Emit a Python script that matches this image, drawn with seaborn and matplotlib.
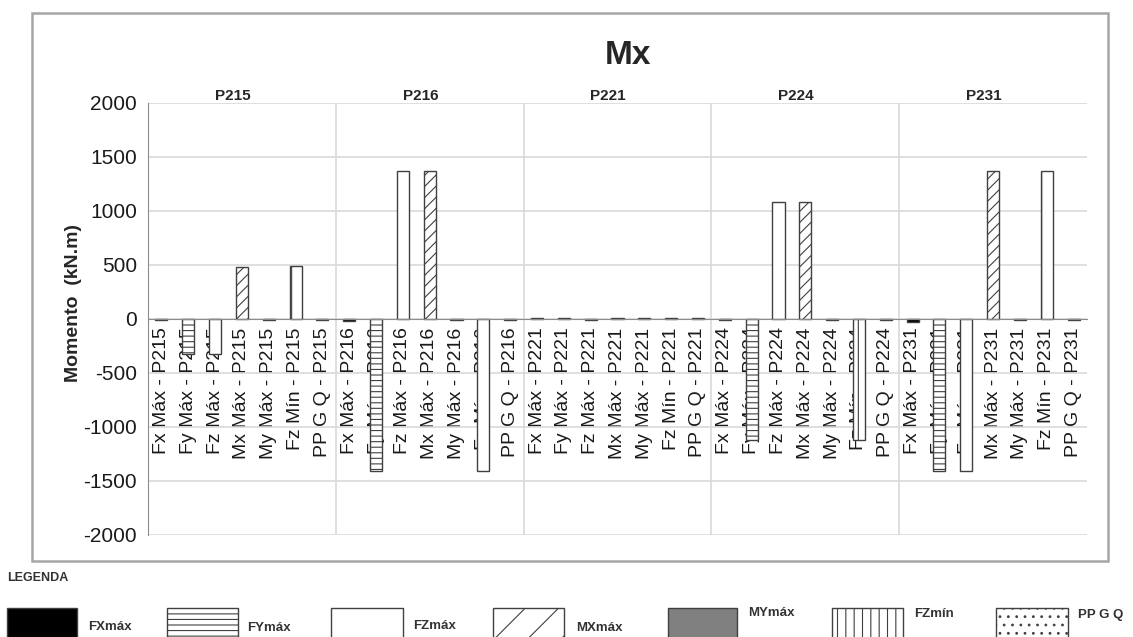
import numpy as np
import pandas as pd
import matplotlib
matplotlib.use('Agg')
import matplotlib.pyplot as plt
from matplotlib.patches import Rectangle
import seaborn as sns

# dados do gráfico
pilares = ['P215', 'P216', 'P221', 'P224', 'P231']
esforcos = ['Fx Máx', 'Fy Máx', 'Fz Máx', 'Mx Máx', 'My Máx', 'Fz Mín', 'PP G Q']
series = ['FXmáx', 'FYmáx', 'FZmáx', 'MXmáx', 'MYmáx', 'FZmín', 'PP G Q']

mx_p215 = [-12, -320, -320, 480, -10, 490, -10]
mx_p216 = [-20, -1410, 1370, 1370, -10, -1410, -10]
mx_p221 = [12, 8, -8, 12, 12, 10, 10]
mx_p224 = [-12, -1120, 1080, 1080, -10, -1120, -10]
mx_p231 = [-25, -1410, -1410, 1370, -10, 1370, -10]

y_ticks = [-2000, -1500, -1000, -500, 0, 500, 1000, 1500, 2000]

cores = {'FXmáx': '#000000', 'FYmáx': '#ffffff', 'FZmáx': '#ffffff', 'MXmáx': '#ffffff',
         'MYmáx': '#808080', 'FZmín': '#ffffff', 'PP G Q': '#ffffff'}
hachuras = {'FXmáx': '', 'FYmáx': '---', 'FZmáx': '', 'MXmáx': '///',
            'MYmáx': '', 'FZmín': '|', 'PP G Q': 'x'}
hachuras_leg = {'FXmáx': '', 'FYmáx': '---', 'FZmáx': '', 'MXmáx': '/',
                'MYmáx': '', 'FZmín': '||', 'PP G Q': '..'}

valores = [mx_p215, mx_p216, mx_p221, mx_p224, mx_p231]
rows = []
for pilar, vals in zip(pilares, valores):
    for esf, serie, v in zip(esforcos, series, vals):
        rows.append({'cat': f'{esf} - {pilar}', 'valor': v, 'serie': serie})
df = pd.DataFrame(rows)

sns.set_style('white')
plt.rcParams['font.family'] = ['Liberation Sans', 'DejaVu Sans']
plt.rcParams['hatch.linewidth'] = 0.8
plt.rcParams['axes.unicode_minus'] = False

W, H = 1133, 637
fig = plt.figure(figsize=(W / 100, H / 100), dpi=100)
ax = fig.add_axes([148 / W, 1 - 535 / H, (1087 - 148) / W, (535 - 103) / H])

sns.barplot(data=df, x='cat', y='valor', hue='serie', hue_order=series, palette=cores,
            dodge=False, width=0.45, edgecolor='#404040', linewidth=1, legend=False, ax=ax,
            zorder=3)
for cont, serie in zip(ax.containers, series):
    for bar in cont:
        bar.set_hatch(hachuras[serie])

grid_c = '#d9d9d9'
ax.set_ylim(-2000, 2000)
ax.set_xlim(-0.5, len(df) - 0.5)
ax.set_yticks(y_ticks)
ax.yaxis.grid(True, color=grid_c, lw=1.2)
ax.set_axisbelow(True)
for k in range(1, len(pilares)):
    ax.axvline(7 * k - 0.5, color=grid_c, lw=1.2, zorder=0)

for s in ['top', 'right']:
    ax.spines[s].set_visible(False)
ax.spines['left'].set_color('#8c8c8c')
ax.spines['bottom'].set_color('#8c8c8c')
ax.spines['bottom'].set_position(('data', 0))
ax.spines['bottom'].set_zorder(4)

ax.set_xticks(range(len(df)))
ax.set_xticklabels(df['cat'], rotation=90, fontsize=14, color='#1a1a1a')
ax.set_xticks(np.arange(-0.5, len(df), 1), minor=True)
ax.tick_params(axis='x', which='major', length=0, pad=6)
ax.tick_params(axis='x', which='minor', length=4, color='#8c8c8c', direction='out')
ax.tick_params(axis='y', length=5, color='#8c8c8c', labelsize=15, labelcolor='#1a1a1a', pad=3)
ax.set_xlabel('')
ax.set_ylabel('')

# títulos
fig.text(628 / W, 1 - 55 / H, 'Mx', fontsize=24, fontweight='bold', ha='center', va='center')
for g, pilar in enumerate(pilares):
    ax.text(7 * g + 3 - 0.35, 2000, pilar, fontsize=11, fontweight='bold',
            ha='center', va='bottom', transform=ax.transData)
fig.text(73 / W, 1 - 303 / H, 'Momento  (kN.m)', fontsize=14, fontweight='bold',
         rotation=90, ha='center', va='center')

# moldura do gráfico
fig.add_artist(Rectangle((32 / W, 1 - 561 / H), (1108 - 32) / W, (561 - 13) / H,
                         transform=fig.transFigure, fill=False, edgecolor='#a6a6a6', lw=1.8))

# legenda
fig.text(7 / W, 1 - 578 / H, 'LEGENDA', fontsize=9, fontweight='bold', color='#333333',
         ha='left', va='center')
caixas = [(7, 77), (167, 238), (331, 403), (493, 564), (668, 737), (832, 903), (996, 1068)]
txt_x = [88, 247, 413, 576, 748, 914, 1078]
txt_y = [627, 628, 626, 628, 613, 614, 615]
for serie, (x0, x1), tx, ty in zip(series, caixas, txt_x, txt_y):
    fig.add_artist(Rectangle((x0 / W, -0.03), (x1 - x0) / W, 0.03 + 1 - 608 / H,
                             transform=fig.transFigure, facecolor=cores[serie],
                             edgecolor='#404040', hatch=hachuras_leg[serie], lw=1))
    fig.text(tx / W, 1 - ty / H, serie, fontsize=9.5, fontweight='bold', color='#333333',
             ha='left', va='center')

plt.savefig('out.png', dpi=100)
